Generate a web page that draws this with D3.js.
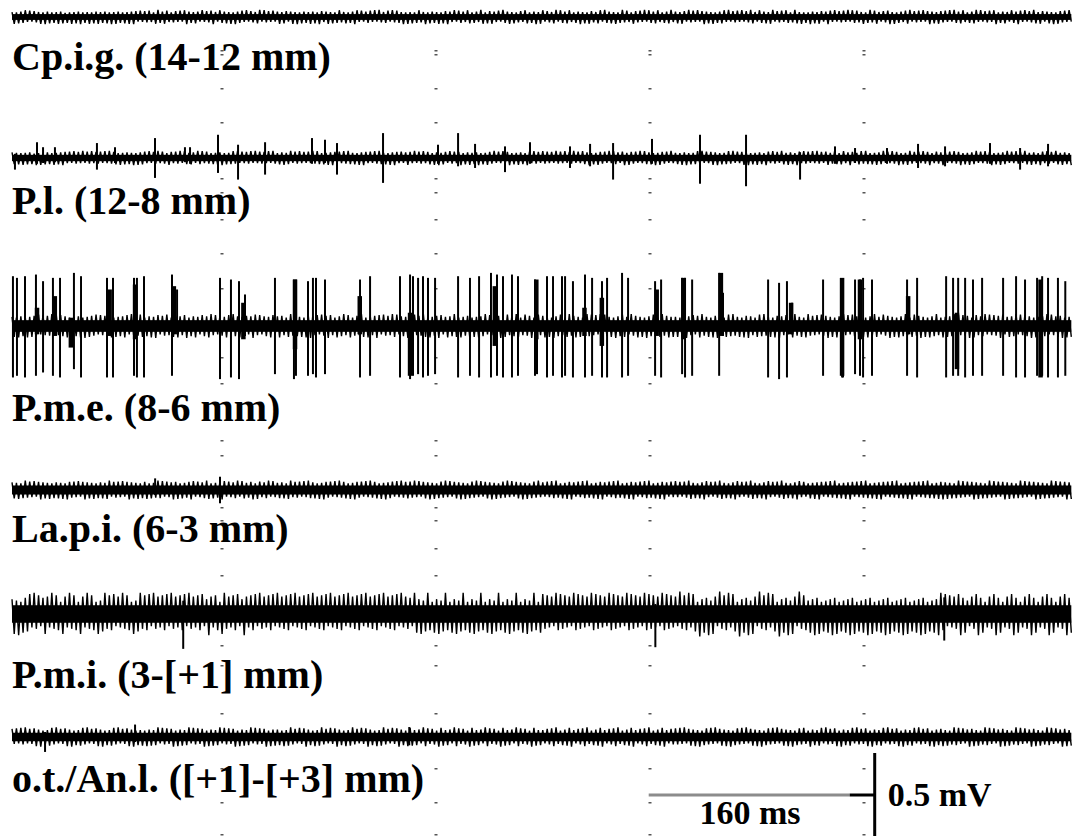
<!DOCTYPE html>
<html>
<head>
<meta charset="utf-8">
<script src="https://cdn.jsdelivr.net/npm/d3@7"></script>
<style>
  body { margin: 0; background: #fff; }
  text { font-family: "Liberation Serif", "Times New Roman", serif; font-weight: bold; fill: #000; }
</style>
</head>
<body>
<div id="chart"></div>
<script>
// Recording sites (top to bottom)
const traceLabels = ["Cp.i.g. (14-12 mm)", "P.l. (12-8 mm)", "P.m.e. (8-6 mm)",
                     "La.p.i. (6-3 mm)", "P.m.i. (3-[+1] mm)", "o.t./An.l. ([+1]-[+3] mm)"];

// background activity, min/max per display bin: one digit per half-cycle (0..9),
// deflection = coreAmp + digit/9 * extraAmp (mV), alternating up/down
const coreAmp  = [0.022, 0.024, 0.044, 0.034, 0.066, 0.032];
const extraAmp = [0.024, 0.022, 0.032, 0.026, 0.070, 0.030];

const cpigNoise =
  "372645736254372846253746152736482537264735462837452637485263" +
  "546327854763245362784536427354683275463728456372543682745362" +
  "473652473826453746285347362574362548736245637284356274653827" +
  "362574382645372658437265437625438726574362854736245376254837" +
  "725436827546732548362754367285463725846327546382754673254683" +
  "463752846372584637254673825463725486327546378254637524863725" +
  "284637524863725463827564372584673254683725436782546372584637" +
  "546372854673254683725463782546327548637254863752463827546372";

const plNoise =
  "453627364518273645273648536274538264735462738456273645382746" +
  "637254836427536482753642857364253748263574826354728364537284" +
  "264735826473526384752637485263748536274853627485362748536247" +
  "538264735627483652746358264735482637548263745826374528637452" +
  "746352846372548263754826375462837542683754628375462837546283" +
  "352748263574826357482635748263574826374528637452863745286374" +
  "627384526734852673485236748526374582637458263784526374582364" +
  "485263745826374582637458263745826374528637452863745286374528";

const pmeNoise =
  "362745273654726354827365472635472836547263548726354762835476" +
  "254738625473265743682547326547836254376285473652487362453762" +
  "475326847536274853627458632745836724538627435862745386724538" +
  "627354862734586237458627345826374582637458267345862374582673" +
  "573628457326845736248573628475362845763284573628457326845736" +
  "362758436257843627584326758436275843267584362758436257843627" +
  "845362745836274583627548362745863274583627458326745836274583" +
  "273645827364582763458273645872364582736548273645827346582736";

const lapiNoise =
  "463725846372584637254637285463725846372546378254637258463725" +
  "572634857263485726345872634587263458726345827634582763458273" +
  "354627835462738546273854627384562738546273845627384562738456" +
  "648372564837256483725648372564837256483725648372564837256483" +
  "426375842637584263758426375842637584263758426375842637584263" +
  "735264873526487352648735264873526487352648735264873526487352" +
  "263748526374852637485263748526374852637485263748526374852637" +
  "584736258473625847362584736258473625847362584736258473625847";

const pmiNoise =
  "372816457283614752836417528364175283641725836471528364172583" +
  "647183526471835264718352647138526417835264713852647183526471" +
  "825364718253647182536471825364718253647182536471825364718253" +
  "418637258416372584163725841637258416372584163725841637258416" +
  "736251847362518473625184736251847362518473625184736251847362" +
  "519364827519364827519364827519364827519364827519364827519364" +
  "263847152638471526384715263847152638471526384715263847152638" +
  "847162537846215378461253784612537846125378461253784612537846";

const otNoise =
  "536274825367482536748253674825367482536748253674825367482536" +
  "274635827463582746358274635827463582746358274635827463582746" +
  "452736845273684527368452736845273684527368452736845273684527" +
  "763542876354287635428763542876354287635428763542876354287635" +
  "325467832546783254678325467832546783254678325467832546783254" +
  "647382564738256473825647382564738256473825647382564738256473" +
  "284536728453672845367284536728453672845367284536728453672845" +
  "573624857362485736248573624857362485736248573624857362485736";

// P.m.e. unit spikes: time (ms), upward and downward deflection (mV)
const pmeSpikeTimes = [3.7, 6.7, 12.7, 20.9, 26.2, 33.6, 38.9, 49.3, 54.6, 74.0,
  78.5, 94.2, 96.4, 101.7, 122.6, 126.4, 158.5, 166.7, 172.7, 177.2,
  199.6, 213.8, 215.3, 224.3, 228.0, 230.3, 237.0, 263.2, 270.7, 293.1,
  300.6, 302.8, 306.6, 310.3, 314.0, 319.3, 336.5, 345.4, 352.2, 361.1,
  365.6, 370.1, 376.8, 381.3, 394.0, 395.5, 403.0, 407.5, 414.2, 416.5,
  422.4, 431.4, 436.7, 444.1, 447.9, 459.1, 463.6, 483.8, 488.3, 504.0,
  506.2, 511.5, 531.7, 534.6, 568.3, 576.5, 582.4, 586.2, 609.4, 623.6,
  624.3, 633.3, 637.0, 639.3, 646.0, 672.2, 679.7, 701.4, 706.6, 710.4,
  715.6, 721.5, 728.3, 744.0, 753.7, 760.4, 769.4, 773.2, 777.6, 785.0, 790.5];
const pmeSpikeUp = [0.30, 0.29, 0.30, 0.31, 0.27, 0.29, 0.29, 0.32, 0.30, 0.29,
  0.29, 0.29, 0.29, 0.30, 0.31, 0.22, 0.29, 0.28, 0.27, 0.19,
  0.29, 0.28, 0.28, 0.27, 0.29, 0.29, 0.28, 0.28, 0.30, 0.30,
  0.31, 0.30, 0.29, 0.30, 0.29, 0.29, 0.30, 0.29, 0.30, 0.32,
  0.31, 0.30, 0.31, 0.30, 0.28, 0.24, 0.30, 0.30, 0.30, 0.30,
  0.27, 0.31, 0.29, 0.27, 0.29, 0.32, 0.29, 0.27, 0.28, 0.29,
  0.29, 0.28, 0.32, 0.20, 0.28, 0.26, 0.27, 0.14, 0.28, 0.28,
  0.27, 0.28, 0.28, 0.29, 0.28, 0.28, 0.29, 0.30, 0.29, 0.29,
  0.29, 0.28, 0.29, 0.29, 0.30, 0.28, 0.29, 0.30, 0.29, 0.29, 0.27];
const pmeSpikeDown = [0.31, 0.30, 0.31, 0.30, 0.28, 0.30, 0.31, 0.26, 0.31, 0.31,
  0.31, 0.30, 0.31, 0.31, 0.30, 0.05, 0.32, 0.31, 0.32, 0.06,
  0.29, 0.32, 0.30, 0.30, 0.29, 0.31, 0.29, 0.31, 0.30, 0.31,
  0.32, 0.30, 0.29, 0.31, 0.30, 0.29, 0.31, 0.30, 0.31, 0.31,
  0.30, 0.31, 0.31, 0.30, 0.30, 0.29, 0.31, 0.30, 0.31, 0.30,
  0.31, 0.31, 0.30, 0.31, 0.31, 0.31, 0.30, 0.30, 0.31, 0.29,
  0.31, 0.30, 0.30, 0.06, 0.31, 0.32, 0.31, 0.05, 0.30, 0.31,
  0.31, 0.29, 0.30, 0.31, 0.30, 0.30, 0.31, 0.31, 0.30, 0.30,
  0.31, 0.30, 0.30, 0.30, 0.31, 0.31, 0.30, 0.30, 0.31, 0.31, 0.30];

// P.m.e. multi-unit bursts (dense overlapping small spikes)
const pmeBurstTimes = [21.7, 35.0, 47.0, 76.0, 95.0, 124.0, 176.0, 214.6, 263.0, 300.6,
  364.0, 395.0, 431.0, 444.0, 485.0, 505.0, 533.0, 585.5, 623.6, 637.0, 673.0, 709.5, 772.0];
const pmeBurstUp = [0.11, 0.18, 0.05, 0.22, 0.25, 0.24, 0.14, 0.28, 0.18, 0.08,
  0.24, 0.28, 0.11, 0.17, 0.22, 0.29, 0.32, 0.14, 0.29, 0.28, 0.18, 0.08, 0.28];
const pmeBurstDown = [0.05, 0.06, 0.13, 0.06, 0.08, 0.05, 0.08, 0.14, 0.05, 0.30,
  0.12, 0.08, 0.06, 0.12, 0.06, 0.08, 0.06, 0.05, 0.30, 0.08, 0.05, 0.26, 0.31];

// P.l. isolated spikes
const plSpikeTimes = [5.2, 21.7, 26.2, 35.1, 66.5, 80.0, 109.9, 132.3, 136.1, 157.0,
  172.0, 192.2, 227.3, 237.0, 246.0, 280.4, 321.5, 336.5, 349.2, 371.6,
  390.3, 420.2, 435.2, 452.4, 481.5, 517.4, 551.8, 592.2, 618.3, 633.3,
  657.2, 680.4, 700.6, 734.2, 756.7, 777.6];
const plSpikeUp = [0.025, 0.095, 0.065, 0.065, 0.09, 0.065, 0.12, 0.065, 0.065, 0.14,
  0.08, 0.095, 0.12, 0.11, 0.09, 0.15, 0.08, 0.15, 0.085, 0.07,
  0.095, 0.07, 0.085, 0.09, 0.115, 0.14, 0.14, 0.035, 0.07, 0.06,
  0.06, 0.085, 0.07, 0.09, 0.06, 0.085];
const plSpikeDown = [0.07, 0.035, 0.03, 0.025, 0.07, 0.03, 0.12, 0.025, 0.035, 0.09,
  0.13, 0.10, 0.035, 0.03, 0.10, 0.15, 0.035, 0.05, 0.06, 0.085,
  0.035, 0.06, 0.05, 0.13, 0.035, 0.155, 0.17, 0.13, 0.035, 0.03,
  0.035, 0.06, 0.05, 0.035, 0.07, 0.05];

// a few larger deflections in the other traces
const lapiSpikeTimes = [110.0, 158.5];
const lapiSpikeUp = [0.07, 0.08];
const lapiSpikeDown = [0.03, 0.08];
const pmiSpikeTimes = [131.0, 484.0, 700.0];
const pmiSpikeUp = [0.08, 0.06, 0.10];
const pmiSpikeDown = [0.21, 0.20, 0.16];
const otSpikeTimes = [27.7, 95.0, 300.0];
const otSpikeUp = [0.03, 0.075, 0.06];
const otSpikeDown = [0.09, 0.03, 0.05];

// time markers every 160 ms, calibration bars
const gridTimes = [160, 320, 480, 640];
const calTimeMs = 160;
const calVoltMv = 0.5;
const calLabels = ["160 ms", "0.5 mV"];

const width = 1072, height = 836;

const svg = d3.select("#chart")
  .append("svg")
  .attr("width", width)
  .attr("height", height)
  .style("background", "#fff");

// 160 ms = 214 px
const xScale = d3.scaleLinear()
  .domain([0, 800])
  .range([8, 8 + 800 * 214 / 160]);

const pxPerMv = 166;
const traceStart = 3, traceEnd = 795;
const traceCenters = [17, 158, 326, 490, 614, 737];
const labelBaselines = [70, 214, 421, 542, 688, 792];

// faint time-marker dashes
const dotRows = [50, 54, 88, 122, 178, 192, 219, 253, 288, 357, 383, 440, 455,
  507, 520, 548, 575, 645, 665, 713, 768, 802, 834];
gridTimes.forEach(t => {
  svg.append("g").selectAll("rect")
    .data(dotRows)
    .enter()
    .append("rect")
    .attr("x", xScale(t) - 1.5)
    .attr("y", d => d)
    .attr("width", 3)
    .attr("height", 1.5)
    .attr("fill", "#555");
});

const traces = [
  { noise: cpigNoise, spikes: [] },
  { noise: plNoise, spikes: [plSpikeTimes, plSpikeUp, plSpikeDown] },
  { noise: pmeNoise, spikes: [pmeSpikeTimes, pmeSpikeUp, pmeSpikeDown] },
  { noise: lapiNoise, spikes: [lapiSpikeTimes, lapiSpikeUp, lapiSpikeDown] },
  { noise: pmiNoise, spikes: [pmiSpikeTimes, pmiSpikeUp, pmiSpikeDown] },
  { noise: otNoise, spikes: [otSpikeTimes, otSpikeUp, otSpikeDown] }
];

traces.forEach((tr, i) => {
  const c = traceCenters[i];
  const yScale = d3.scaleLinear().domain([-1, 1]).range([c + pxPerMv, c - pxPerMv]);

  const vals = tr.noise.split("").map((ch, j) =>
    (j % 2 === 0 ? 1 : -1) * (coreAmp[i] + (+ch) / 9 * extraAmp[i]));
  const tScale = d3.scaleLinear().domain([0, vals.length - 1]).range([traceStart, traceEnd]);

  // solid core of the band
  svg.append("rect")
    .attr("x", xScale(traceStart))
    .attr("y", yScale(coreAmp[i] * 0.8))
    .attr("width", xScale(traceEnd) - xScale(traceStart))
    .attr("height", yScale(-coreAmp[i] * 0.8) - yScale(coreAmp[i] * 0.8))
    .attr("fill", "#000");

  const line = d3.line()
    .x((d, j) => xScale(tScale(j)))
    .y(d => yScale(d));

  svg.append("path")
    .datum(vals)
    .attr("d", line)
    .attr("fill", "none")
    .attr("stroke", "#000")
    .attr("stroke-width", 1.4);

  if (tr.spikes.length) {
    const [times, up, down] = tr.spikes;
    svg.append("g").selectAll("line")
      .data(times)
      .enter()
      .append("line")
      .attr("x1", d => xScale(d))
      .attr("x2", d => xScale(d))
      .attr("y1", (d, k) => yScale(up[k]))
      .attr("y2", (d, k) => yScale(-down[k]))
      .attr("stroke", "#000")
      .attr("stroke-width", 2);
  }

  if (i === 2) {
    svg.append("g").selectAll("line")
      .data(pmeBurstTimes)
      .enter()
      .append("line")
      .attr("x1", d => xScale(d))
      .attr("x2", d => xScale(d))
      .attr("y1", (d, k) => yScale(pmeBurstUp[k]))
      .attr("y2", (d, k) => yScale(-pmeBurstDown[k]))
      .attr("stroke", "#000")
      .attr("stroke-width", 4.5);
  }

  svg.append("text")
    .attr("x", 12)
    .attr("y", labelBaselines[i])
    .style("font-size", "40px")
    .text(traceLabels[i]);
});

// calibration bars
const calEnd = 648;
const calX0 = xScale(calEnd - calTimeMs), calX1 = xScale(calEnd);
const calY = 795;

svg.append("line")
  .attr("x1", calX0 - 12).attr("x2", calX1 - 25)
  .attr("y1", calY).attr("y2", calY)
  .attr("stroke", "#8c8c8c")
  .attr("stroke-width", 3);

svg.append("line")
  .attr("x1", calX1 - 25).attr("x2", calX1)
  .attr("y1", calY).attr("y2", calY)
  .attr("stroke", "#000")
  .attr("stroke-width", 3);

svg.append("line")
  .attr("x1", calX1).attr("x2", calX1)
  .attr("y1", height - calVoltMv * pxPerMv)
  .attr("y2", height)
  .attr("stroke", "#000")
  .attr("stroke-width", 3);

svg.append("text")
  .attr("x", 750)
  .attr("y", 824)
  .style("font-size", "34px")
  .style("text-anchor", "middle")
  .text(calLabels[0]);

svg.append("text")
  .attr("x", calX1 + 13)
  .attr("y", 806)
  .style("font-size", "34px")
  .text(calLabels[1]);
</script>
</body>
</html>
